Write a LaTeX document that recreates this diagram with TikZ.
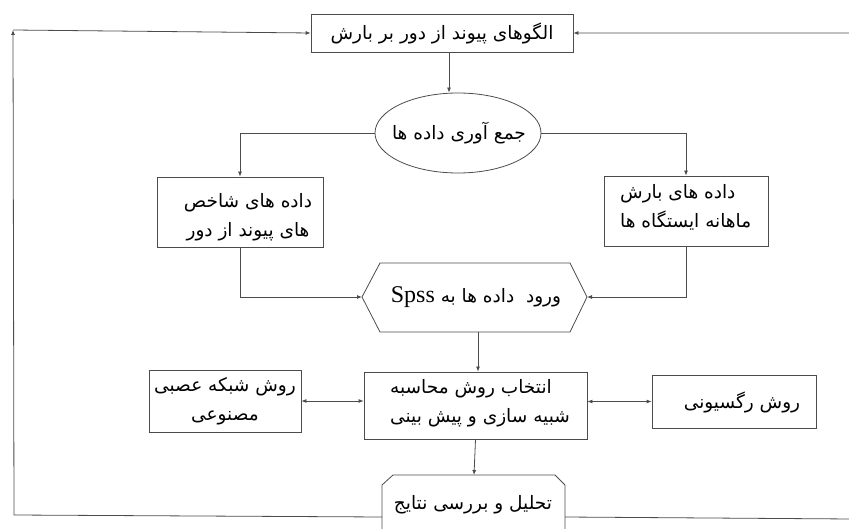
\documentclass[tikz,border=0pt]{standalone}
\usepackage{fontspec}
\setmainfont{Liberation Serif}
\newfontfamily\arabicfont[Script=Arabic]{DejaVu Sans}
\TeXXeTstate=1
\usetikzlibrary{arrows.meta,shapes.geometric}
\newcommand\faT[1]{{\arabicfont\beginR #1\endR}}
\begin{document}
\begin{tikzpicture}[x=1pt,y=-1pt,
  line/.style={draw=black!70, line width=0.8pt},
  arr/.style={line, -{Latex[length=5pt,width=4pt]}},
  arrb/.style={line, {Latex[length=5pt,width=4pt]}-{Latex[length=5pt,width=4pt]}},
  box/.style={draw=black!70, line width=0.8pt, inner sep=0pt},
  txt/.style={inner sep=0pt, font=\fontsize{18.5}{29}\selectfont, align=center}]
\useasboundingbox (0,0) rectangle (849,529);
% top box
\node[box, txt, minimum width=262pt, minimum height=38pt] (top) at (442,33) {\faT{الگوهای پیوند از دور بر بارش}};
% ellipse
\node[box, ellipse, minimum width=166pt, minimum height=80pt] (ell) at (458,133) {};
\node[txt] (elltxt) at (459,133) {\faT{جمع آوری داده ها}};
% left and right data boxes
\node[box, minimum width=166pt, minimum height=70pt] (lb) at (240,212) {};
\node[txt] (lbtxt) at (248,217) {\faT{داده های شاخص}\\\faT{های پیوند از دور}};
\node[box, minimum width=164pt, minimum height=70pt] (rb) at (686,211) {};
\node[txt, align=left, anchor=west] (rbtxt) at (620,207) {\faT{داده های بارش}\\\faT{ماهانه ایستگاه ها}};
% hexagon
\coordinate (hW) at (362,297);
\coordinate (hE) at (587,297);
\coordinate (hS) at (478,332);
\draw[line] (hW) -- (380,263) -- (570,263) -- (hE) -- (570,332) -- (380,332) -- cycle;
\node[txt] (hex) at (476,297) {\faT{ورود\ \ داده ها به {\fontsize{24}{24}\rmfamily\beginL Spss\endL}}};
% middle box
\node[box, minimum width=223pt, minimum height=67pt] (mid) at (475.5,405.5) {};
\node[txt, align=left, anchor=west] (midtxt) at (390,403.5) {\faT{انتخاب روش محاسبه}\\\faT{شبیه سازی و پیش بینی}};
% side method boxes
\node[box, txt, minimum width=152pt, minimum height=62pt] (lm) at (225,401) {\faT{روش شبکه عصبی}\\\faT{مصنوعی}};
\node[box, minimum width=164pt, minimum height=53pt] (rm) at (734,401.5) {};
\node[txt] (rmtxt) at (742,402) {\faT{روش رگسیونی}};
% bottom node with chamfered top corners
\coordinate (bN) at (474,475);
\coordinate (bL) at (382,517);
\coordinate (bR) at (565,517);
\draw[line] (382,540) -- (382,485) -- (393,475) -- (555,475) -- (565,485) -- (565,540);
\node[txt] (bot) at (473,505) {\faT{تحلیل و بررسی نتایج}};
% connectors
\draw[arr] (top.south -| 449,0) -- (ell.north -| 449,0);
\draw[arr] (ell.west) -| (lb.north);
\draw[arr] (ell.east) -| (rb.north);
\draw[arr] (lb.south) |- (hW);
\draw[arr] (rb.south) |- (hE);
\draw[arr] (hS) -- (mid.north -| hS);
\draw[arrb] (lm.east) -- (lm.east -| mid.west);
\draw[arrb] (mid.east |- rm.west) -- (rm.west);
\draw[arr] (mid.south) -- (bN);
\coordinate (cL1) at (14,515);
\coordinate (cL2) at (13,30);
\draw[arr] (bL) -- (cL1) -- (cL2);
\draw[arr] (cL2) -- (top.west);
\coordinate (cR1) at (852,519);
\coordinate (cR2) at (852,33);
\draw[arr] (bR) -- (cR1) -- (cR2) -- (top.east);
\end{tikzpicture}
\end{document}
